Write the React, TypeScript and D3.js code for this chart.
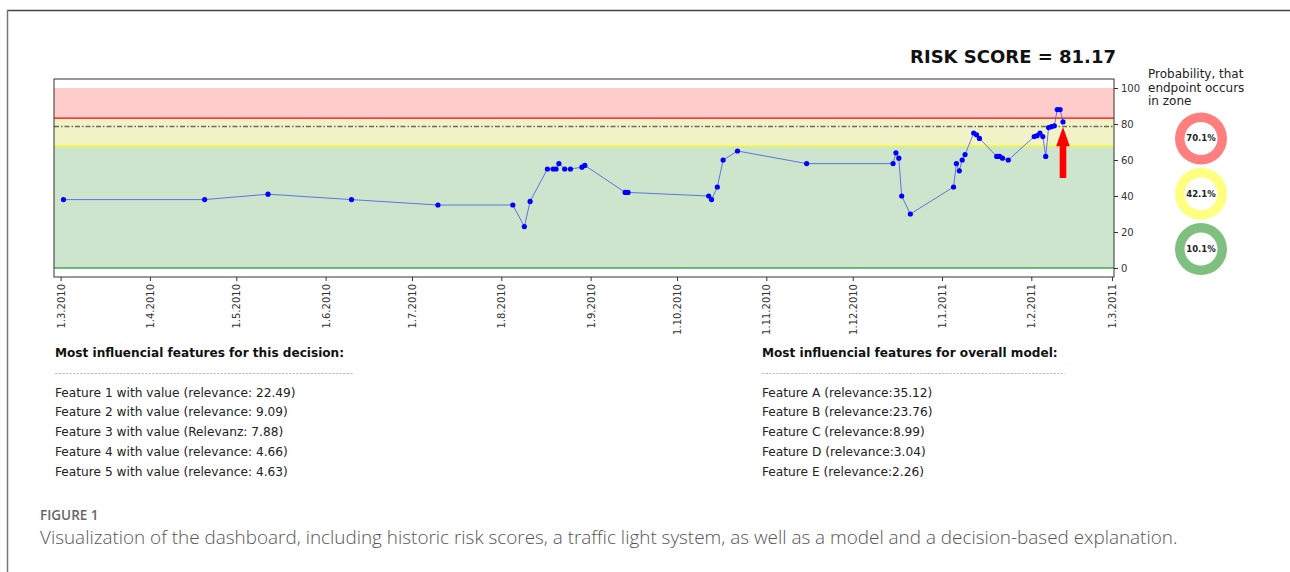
import React, { useEffect, useRef } from "react";
import * as d3 from "d3";

const W = 1290;
const H = 572;

// historic risk scores
const dates = [
  "2010-03-02", "2010-04-20", "2010-05-12", "2010-06-10", "2010-07-10",
  "2010-08-05", "2010-08-09", "2010-08-11", "2010-08-17", "2010-08-19",
  "2010-08-20", "2010-08-21", "2010-08-23", "2010-08-25", "2010-08-29",
  "2010-08-30", "2010-09-13", "2010-09-14", "2010-10-12", "2010-10-13",
  "2010-10-15", "2010-10-17", "2010-10-22", "2010-11-15", "2010-12-15",
  "2010-12-16", "2010-12-17", "2010-12-18", "2010-12-21", "2011-01-05",
  "2011-01-06", "2011-01-07", "2011-01-08", "2011-01-09", "2011-01-12",
  "2011-01-13", "2011-01-14", "2011-01-20", "2011-01-21", "2011-01-22",
  "2011-01-24", "2011-02-02", "2011-02-03", "2011-02-04", "2011-02-05",
  "2011-02-06", "2011-02-07", "2011-02-08", "2011-02-09", "2011-02-10",
  "2011-02-11", "2011-02-12",
];
const scores = [
  38, 38, 41, 38, 35,
  35, 23, 37, 55, 55,
  55, 58, 55, 55, 56,
  57, 42, 42, 40, 38,
  45, 60, 65, 58, 58,
  64, 61, 40, 30, 45,
  58, 54, 60, 63, 75,
  74, 72, 62, 62, 61,
  60, 73, 73.5, 75, 73,
  62, 78, 78.5, 79, 88,
  88, 81.17,
];

// zone limits (score units)
const zoneNames = ["red", "yellow", "green"];
const zoneTop = [100, 83.3, 67.8];
const zoneBottom = [83.3, 67.8, 0];
const zoneFill = ["#ffcccc", "#f2f2c9", "#cce5cc"];
const zoneLine = ["#ff0000", "#ffff00", "#008000"];
const zoneLineAt = [83.3, 67.8, 0];
const thresholdLine = 78.6;

// traffic light
const zoneProb = ["70.1%", "42.1%", "10.1%"];
const ringColors = ["#ff7f7f", "#ffff7f", "#7fbf7f"];

const riskScore = "81.17";
const currentDate = "2011-02-12";
const arrowFrom = 50;
const arrowHeadBase = 67.7;
const arrowTip = 78.3;

const decisionFeatures = [
  "Feature 1 with value (relevance: 22.49)",
  "Feature 2 with value (relevance: 9.09)",
  "Feature 3 with value (Relevanz: 7.88)",
  "Feature 4 with value (relevance: 4.66)",
  "Feature 5 with value (relevance: 4.63)",
];
const modelFeatures = [
  "Feature A (relevance:35.12)",
  "Feature B (relevance:23.76)",
  "Feature C (relevance:8.99)",
  "Feature D (relevance:3.04)",
  "Feature E (relevance:2.26)",
];

const yTicks = [0, 20, 40, 60, 80, 100];

const plot = { left: 54, right: 1114, top: 79, bottom: 277 };
const FONT = "'DejaVu Sans', sans-serif";

function draw(el: SVGSVGElement) {
  const svg = d3.select(el);
  svg.selectAll("*").remove();

  const parse = d3.utcParse("%Y-%m-%d");
  const data = dates.map((d, i) => ({ date: parse(d) as Date, v: scores[i] }));

  const x = d3
    .scaleUtc()
    .domain([new Date(Date.UTC(2010, 1, 26, 17)), new Date(Date.UTC(2011, 2, 1, 17))])
    .range([plot.left, plot.right]);
  const y = d3.scaleLinear().domain([-5, 105]).range([plot.bottom, plot.top]);

  // figure border
  svg.append("line").attr("x1", 7).attr("x2", W).attr("y1", 10.5).attr("y2", 10.5)
    .attr("stroke", "#444").attr("stroke-width", 1.5);
  svg.append("line").attr("x1", 7.5).attr("x2", 7.5).attr("y1", 10).attr("y2", H)
    .attr("stroke", "#777").attr("stroke-width", 1.5);

  // zones
  const g = svg.append("g");
  g.selectAll("rect.zone")
    .data(zoneNames)
    .join("rect")
    .attr("class", "zone")
    .attr("x", plot.left)
    .attr("width", plot.right - plot.left)
    .attr("y", (_d, i) => y(zoneTop[i]))
    .attr("height", (_d, i) => y(zoneBottom[i]) - y(zoneTop[i]))
    .attr("fill", (_d, i) => zoneFill[i]);

  g.selectAll("line.zl")
    .data(zoneNames)
    .join("line")
    .attr("class", "zl")
    .attr("x1", plot.left)
    .attr("x2", plot.right)
    .attr("y1", (_d, i) => y(zoneLineAt[i]))
    .attr("y2", (_d, i) => y(zoneLineAt[i]))
    .attr("stroke", (_d, i) => zoneLine[i])
    .attr("stroke-width", 1.2);

  g.append("line")
    .attr("x1", plot.left)
    .attr("x2", plot.right)
    .attr("y1", y(thresholdLine))
    .attr("y2", y(thresholdLine))
    .attr("stroke", "#6e6c52")
    .attr("stroke-width", 1.3)
    .attr("stroke-dasharray", "5,2,1.5,2");

  // score line + markers
  const line = d3
    .line<{ date: Date; v: number }>()
    .x((d) => x(d.date))
    .y((d) => y(d.v));
  g.append("path")
    .datum(data)
    .attr("d", line)
    .attr("fill", "none")
    .attr("stroke", "#3a4ee8")
    .attr("stroke-opacity", 0.75)
    .attr("stroke-width", 1);
  g.selectAll("circle.pt")
    .data(data)
    .join("circle")
    .attr("class", "pt")
    .attr("cx", (d) => x(d.date))
    .attr("cy", (d) => y(d.v))
    .attr("r", 2.6)
    .attr("fill", "#0000ff");

  // red arrow pointing at the current score
  const ax = x(parse(currentDate) as Date);
  const shaftW = 3.3;
  const headW = 6.8;
  const arrow = d3.path();
  arrow.moveTo(ax - shaftW, y(arrowFrom));
  arrow.lineTo(ax - shaftW, y(arrowHeadBase));
  arrow.lineTo(ax - headW, y(arrowHeadBase));
  arrow.lineTo(ax, y(arrowTip));
  arrow.lineTo(ax + headW, y(arrowHeadBase));
  arrow.lineTo(ax + shaftW, y(arrowHeadBase));
  arrow.lineTo(ax + shaftW, y(arrowFrom));
  arrow.closePath();
  g.append("path").attr("d", arrow.toString()).attr("fill", "#ff0000");

  // frame
  g.append("rect")
    .attr("x", plot.left)
    .attr("y", plot.top)
    .attr("width", plot.right - plot.left)
    .attr("height", plot.bottom - plot.top)
    .attr("fill", "none")
    .attr("stroke", "#333")
    .attr("stroke-width", 1);

  // x axis
  const months = d3.utcMonth.range(new Date(Date.UTC(2010, 2, 1)), new Date(Date.UTC(2011, 2, 2)));
  const fmt = d3.utcFormat("%-d.%-m.%Y");
  const xa = svg
    .append("g")
    .attr("transform", `translate(0,${plot.bottom})`)
    .call(d3.axisBottom(x).tickValues(months).tickFormat((d) => fmt(d as Date)).tickSize(4).tickSizeOuter(0));
  xa.select(".domain").remove();
  xa.selectAll("line").attr("stroke", "#333");
  xa.selectAll("text")
    .attr("font-family", FONT)
    .attr("font-size", 10)
    .attr("fill", "#333")
    .attr("text-anchor", "end")
    .attr("transform", "rotate(-90)")
    .attr("x", -7)
    .attr("y", 0)
    .attr("dy", "0.35em");

  // y axis (right)
  const ya = svg
    .append("g")
    .attr("transform", `translate(${plot.right},0)`)
    .call(d3.axisRight(y).tickValues(yTicks).tickSize(4).tickPadding(3));
  ya.select(".domain").remove();
  ya.selectAll("line").attr("stroke", "#333");
  ya.selectAll("text").attr("font-family", FONT).attr("font-size", 10).attr("fill", "#333");

  // title
  svg.append("text")
    .attr("x", plot.right + 2)
    .attr("y", 63)
    .attr("text-anchor", "end")
    .attr("font-family", FONT)
    .attr("font-weight", "bold")
    .attr("font-size", 18)
    .attr("fill", "#111")
    .text(`RISK SCORE = ${riskScore}`);

  // traffic light legend
  const legend = ["Probability, that", "endpoint occurs", "in zone"];
  svg.append("text")
    .attr("font-family", FONT)
    .attr("font-size", 12)
    .attr("fill", "#222")
    .selectAll("tspan")
    .data(legend)
    .join("tspan")
    .attr("x", 1148)
    .attr("y", (_d, i) => 78 + i * 13.5)
    .text((d) => d);

  const arc = d3.arc<any>().innerRadius(16.5).outerRadius(26).startAngle(0).endAngle(2 * Math.PI);
  const rings = svg
    .append("g")
    .selectAll("g")
    .data(zoneProb)
    .join("g")
    .attr("transform", (_d, i) => `translate(1201,${138.5 + i * 55.3})`);
  rings.append("path").attr("d", arc({})).attr("fill", (_d, i) => ringColors[i]);
  rings.append("text")
    .attr("text-anchor", "middle")
    .attr("dy", "0.35em")
    .attr("font-family", FONT)
    .attr("font-weight", "bold")
    .attr("font-size", 8.5)
    .attr("fill", "#222")
    .text((d) => d);

  // explanation columns
  const cols = [
    { x: 55, head: "Most influencial features for this decision:", items: decisionFeatures, dashEnd: 354 },
    { x: 762, head: "Most influencial features for overall model:", items: modelFeatures, dashEnd: 1065 },
  ];
  cols.forEach((c) => {
    svg.append("text")
      .attr("x", c.x)
      .attr("y", 357)
      .attr("font-family", FONT)
      .attr("font-weight", "bold")
      .attr("font-size", 12.1)
      .attr("fill", "#111")
      .text(c.head);
    svg.append("line")
      .attr("x1", c.x)
      .attr("x2", c.dashEnd)
      .attr("y1", 373.5)
      .attr("y2", 373.5)
      .attr("stroke", "#aaa")
      .attr("stroke-width", 0.8)
      .attr("stroke-dasharray", "2.4,1.2");
    svg.append("g")
      .selectAll("text")
      .data(c.items)
      .join("text")
      .attr("x", c.x)
      .attr("y", (_d, i) => 396.5 + i * 19.8)
      .attr("font-family", FONT)
      .attr("font-size", 12.2)
      .attr("fill", "#222")
      .text((d) => d);
  });

  // caption
  svg.append("text")
    .attr("x", 40)
    .attr("y", 520)
    .attr("font-family", "'Open Sans', sans-serif")
    .attr("font-weight", 600)
    .attr("font-size", 13.5)
    .attr("fill", "#666")
    .text("FIGURE 1");
  svg.append("text")
    .attr("x", 40)
    .attr("y", 544)
    .attr("font-family", "'Open Sans', sans-serif")
    .attr("font-weight", 300)
    .attr("font-size", 18.9)
    .attr("fill", "#555")
    .text("Visualization of the dashboard, including historic risk scores, a traffic light system, as well as a model and a decision-based explanation.");
}

export default function App() {
  const ref = useRef<SVGSVGElement>(null);
  useEffect(() => {
    if (ref.current) draw(ref.current);
  }, []);
  return (
    <div style={{ position: "absolute", left: 0, top: 0, width: W, height: H, background: "#fff" }}>
      <svg ref={ref} width={W} height={H} style={{ display: "block" }} />
    </div>
  );
}
